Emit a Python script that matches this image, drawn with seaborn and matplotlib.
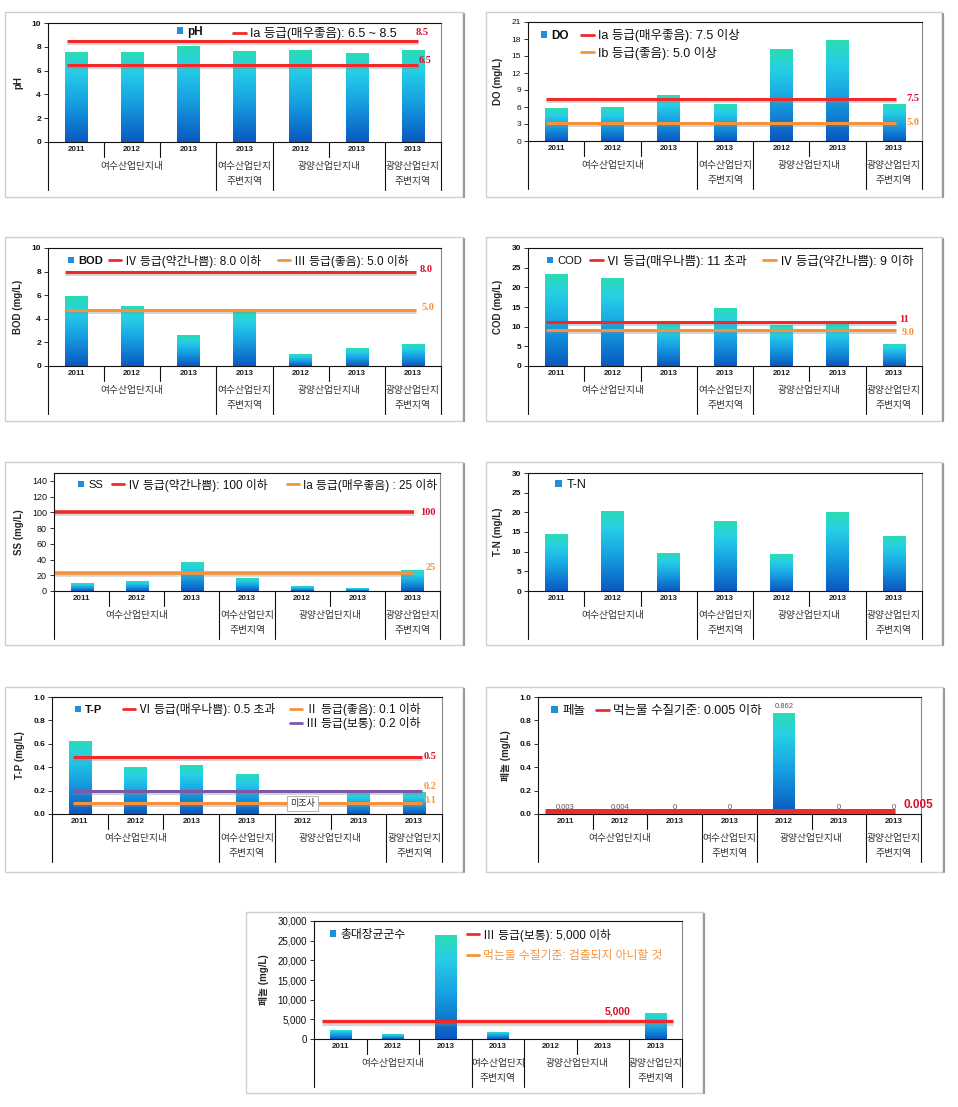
import numpy as np
import matplotlib
matplotlib.use('Agg')
import matplotlib.pyplot as plt
import seaborn as sns
import pandas as pd
from matplotlib.colors import LinearSegmentedColormap
from matplotlib.lines import Line2D
from matplotlib.patches import Patch, Rectangle
from matplotlib.legend import Legend
import matplotlib.patheffects as pe
import matplotlib.transforms as mtransforms
from matplotlib.ticker import FuncFormatter, MultipleLocator

sns.set_theme(style='white')
plt.rcParams['font.family'] = ['Liberation Sans', 'Noto Sans CJK KR', 'DejaVu Sans']
plt.rcParams['axes.unicode_minus'] = False

# ---------------- data ----------------
years = ['2011', '2012', '2013', '2013', '2012', '2013', '2013']
groups = ['여수산업단지내', '여수산업단지내', '여수산업단지내', '여수산업단지\n주변지역',
          '광양산업단지내', '광양산업단지내', '광양산업단지\n주변지역']

ph_vals = [7.6, 7.6, 8.1, 7.65, 7.7, 7.5, 7.7]
do_vals = [5.8, 6.0, 8.1, 6.5, 16.2, 17.8, 6.5]
bod_vals = [5.9, 5.1, 2.6, 4.7, 1.0, 1.5, 1.85]
cod_vals = [23.5, 22.5, 11.2, 14.7, 10.3, 10.6, 5.7]
ss_vals = [9.7, 12.2, 36.3, 16.0, 5.9, 3.4, 26.1]
tn_vals = [14.4, 20.4, 9.6, 17.7, 9.3, 20.0, 14.1]
tp_vals = [0.626, 0.402, 0.419, 0.343, np.nan, 0.187, 0.187]
phenol_vals = [0.003, 0.004, 0.0, 0.0, 0.862, 0.0, 0.0]
phenol_bar_labels = ['0.003', '0.004', '0', '0', '0.862', '0', '0']
coli_vals = [2360, 1180, 26370, 1850, np.nan, 80, 6570]

ph_lines, ph_line_labels = [8.5, 6.45], ['8.5', '6.5']
do_lines, do_line_labels = [7.5, 3.2], ['7.5', '5.0']
bod_lines, bod_line_labels = [8.0, 4.75], ['8.0', '5.0']
cod_lines, cod_line_labels = [11.2, 9.1], ['11', '9.0']
ss_lines, ss_line_labels = [100, 23], ['100', '25']
tp_lines, tp_line_labels = [0.49, 0.2, 0.095], ['0.5', '0.2', '0.1']
phenol_lines, phenol_line_labels = [0.023], ['0.005']
coli_lines, coli_line_labels = [4470], ['5,000']

# ---------------- styles ----------------
W, H = 958, 1107
RED = '#f02a2a'
RED_T = '#d8102a'
ORANGE = '#f7923a'
PURPLE = '#7d57a8'
SERIF = ['Liberation Serif', 'DejaVu Serif']
SANS = ['Liberation Sans', 'DejaVu Sans']

fig = plt.figure(figsize=(W / 100, H / 100), dpi=100)
fig.patch.set_facecolor('white')

cmap = LinearSegmentedColormap.from_list(
    'bar', [(0, '#0a58c0'), (0.45, '#17a2e2'), (0.78, '#26cfe6'), (1.0, '#2bdcb2')])
grad = np.linspace(0, 1, 256).reshape(-1, 1)


def fx(px):
    return px / W


def fy(py):
    return 1 - py / H


def frame(x0, y0, x1, y1):
    fig.add_artist(Rectangle((fx(x0), fy(y1)), fx(x1) - fx(x0), fy(y0) - fy(y1),
                             transform=fig.transFigure, fill=False,
                             edgecolor='#cfcfcf', lw=1.0))
    fig.add_artist(Line2D([fx(x1 + 1), fx(x1 + 1)], [fy(y0 + 2), fy(y1)],
                          transform=fig.transFigure, color='#9a9a9a', lw=1.6))


def legend_entry(ax, kind, color, text, px, py, fs=8.5, tcolor='#111111', bold=False):
    if kind == 'sq':
        h = Patch(facecolor='#1e8fd8', edgecolor='none')
        hl, hh = 0.55, 0.55
    else:
        h = Line2D([], [], color=color, lw=2.0)
        hl, hh = 1.0, 0.7
    leg = Legend(ax, [h], [text], loc='center left', bbox_to_anchor=(fx(px), fy(py)),
                 bbox_transform=fig.transFigure, frameon=False, fontsize=fs,
                 borderpad=0, borderaxespad=0, handlelength=hl, handleheight=hh,
                 handletextpad=0.35)
    for t in leg.get_texts():
        t.set_color(tcolor)
        if bold:
            t.set_fontweight('bold')
    ax.add_artist(leg)


def panel(box, vals, ylim, ystep, ylabel, fmt, tick_bold=True, tick_fs=6):
    l, t, r, b = box
    ax = fig.add_axes([fx(l), fy(b), fx(r) - fx(l), fy(t) - fy(b)])
    df = pd.DataFrame({'cat': [f'c{i}' for i in range(len(vals))], 'value': vals})
    sns.barplot(data=df, x='cat', y='value', order=list(df['cat']), ax=ax,
                width=0.4, color='#1aa6e4', errorbar=None, saturation=1)
    for p in list(ax.patches):
        x, y, w, h = p.get_x(), p.get_y(), p.get_width(), p.get_height()
        p.set_edgecolor('none')
        if not np.isfinite(h) or h <= 0:
            continue
        im = ax.imshow(grad, extent=[x, x + w, y, y + h], origin='lower', cmap=cmap,
                       aspect='auto', zorder=2, interpolation='bilinear')
        im.set_clip_path(p)
    ax.set_xlim(-0.5, len(vals) - 0.5)
    ax.set_ylim(*ylim)
    ax.yaxis.set_major_locator(MultipleLocator(ystep))
    if fmt == 'int':
        ax.yaxis.set_major_formatter(FuncFormatter(lambda v, _: f'{v:.0f}'))
    elif fmt == 'f1':
        ax.yaxis.set_major_formatter(FuncFormatter(lambda v, _: f'{v:.1f}'))
    else:
        ax.yaxis.set_major_formatter(FuncFormatter(lambda v, _: f'{v:,.0f}'))
    ax.set_xticks(range(len(vals)))
    ax.set_xticklabels(years, fontsize=5.8, fontweight='bold', color='#222222')
    ax.tick_params(axis='x', length=0, pad=3)
    ax.tick_params(axis='y', direction='out', length=3, width=0.6, pad=2,
                   labelsize=tick_fs, left=True, colors='#111111')
    if tick_bold:
        for tl in ax.get_yticklabels():
            tl.set_fontweight('bold')
    ax.set_xlabel('')
    ax.set_ylabel(ylabel, fontsize=7, fontweight='bold', labelpad=6)
    for s in ['left', 'bottom', 'top']:
        ax.spines[s].set_color('#111111')
        ax.spines[s].set_linewidth(0.8)
    ax.spines['right'].set_color('#8a8a8a')
    ax.spines['right'].set_linewidth(0.8)
    ax.set_facecolor('white')

    # hierarchical category axis
    hpx = b - t
    blend = mtransforms.blended_transform_factory(ax.transData, ax.transAxes)
    n = len(vals)
    bounds = [(-0.5, True)]
    for i in range(n - 1):
        bounds.append((i + 0.5, groups[i] != groups[i + 1]))
    bounds.append((n - 0.5, True))
    for xb, long_ in bounds:
        depth = 48 if long_ else 15
        ax.add_line(Line2D([xb, xb], [0, -depth / hpx], transform=blend, color='#111111',
                           lw=0.8, clip_on=False))
    seen = []
    for g in groups:
        if g not in seen:
            seen.append(g)
    for g in seen:
        idx = [i for i, gg in enumerate(groups) if gg == g]
        ax.text(np.mean(idx), -19 / hpx, g, transform=blend, ha='center', va='top',
                fontsize=7, color='#333333', linespacing=1.65)
    return ax


def thresholds(ax, values, labels, colors, lcolors, xs, xe, offs, lw=2.2, lfs=7, fam=SERIF):
    for v, lab, c, lc, (dx, dy) in zip(values, labels, colors, lcolors, offs):
        ax.hlines(v, xs, xe, colors=c, lw=lw, zorder=4,
                  path_effects=[pe.SimpleLineShadow(offset=(0, -1.5), shadow_color='#888888', alpha=0.35),
                                pe.Normal()])
        ax.annotate(lab, xy=(xe, v), xytext=(dx * 0.72, dy * 0.72), textcoords='offset points',
                    ha='left', va='center', fontsize=lfs, fontweight='bold', color=lc,
                    family=fam, annotation_clip=False, zorder=5)


# ---------- frames ----------
frame(5, 12, 463, 197)
frame(486, 12, 942, 197)
frame(5, 237, 463, 421)
frame(486, 237, 942, 421)
frame(5, 462, 463, 645)
frame(486, 462, 942, 645)
frame(5, 687, 463, 872)
frame(486, 687, 943, 872)
frame(246, 912, 703, 1093)

# ---------- pH ----------
ax = panel((48, 23, 441, 142), ph_vals, (0, 10), 2, 'pH', 'int')
thresholds(ax, ph_lines, ph_line_labels, [RED, RED], [RED_T, RED_T], -0.17, 6.09,
           [(-2, 8), (1, 5)], lfs=7.5)
legend_entry(ax, 'sq', None, 'pH', 177, 32, bold=True)
legend_entry(ax, 'line', RED, 'Ia 등급(매우좋음): 6.5 ~ 8.5', 233, 34, fs=9)

# ---------- DO ----------
ax = panel((528, 22, 922, 141), do_vals, (0, 21), 3, 'DO (mg/L)', 'int', tick_bold=False)
thresholds(ax, do_lines, do_line_labels, [RED, ORANGE], [RED_T, ORANGE], -0.18, 6.04,
           [(10, 0), (10, 0)], lfs=7.5)
legend_entry(ax, 'sq', None, 'DO', 541, 36, bold=True)
legend_entry(ax, 'line', RED, 'Ia 등급(매우좋음): 7.5 이상', 581, 36, fs=9)
legend_entry(ax, 'line', ORANGE, 'Ib 등급(좋음): 5.0 이상', 581, 53, fs=9)

# ---------- BOD ----------
ax = panel((48, 248, 441, 366), bod_vals, (0, 10), 2, 'BOD (mg/L)', 'int')
thresholds(ax, bod_lines, bod_line_labels, [RED, ORANGE], [RED_T, ORANGE], -0.2, 6.05,
           [(4, 2), (6, 2)], lfs=7.5)
legend_entry(ax, 'sq', None, 'BOD', 68, 261, fs=8, bold=True)
legend_entry(ax, 'line', RED, 'Ⅳ 등급(약간나쁨): 8.0 이하', 109, 261)
legend_entry(ax, 'line', ORANGE, 'Ⅲ 등급(좋음): 5.0 이하', 278, 261)

# ---------- COD ----------
ax = panel((528, 248, 922, 366), cod_vals, (0, 30), 5, 'COD (mg/L)', 'int')
thresholds(ax, cod_lines, cod_line_labels, [RED, ORANGE], [RED_T, ORANGE], -0.18, 6.03,
           [(4, 2), (6, -2)], lfs=7.5)
legend_entry(ax, 'sq', None, 'COD', 547, 261, fs=8)
legend_entry(ax, 'line', RED, 'Ⅵ 등급(매우나쁨): 11 초과', 590, 261, fs=9)
legend_entry(ax, 'line', ORANGE, 'Ⅳ 등급(약간나쁨): 9 이하', 763, 261, fs=9)

# ---------- SS ----------
ax = panel((54, 473, 440, 591), ss_vals, (0, 150), 20, 'SS (mg/L)', 'int', tick_bold=False, tick_fs=6.5)
thresholds(ax, ss_lines, ss_line_labels, [RED, ORANGE], [RED_T, ORANGE], -0.48, 6.03,
           [(6, 0), (12, 5)], lw=2.6, lfs=7.5)
legend_entry(ax, 'sq', None, 'SS', 78, 485, fs=8)
legend_entry(ax, 'line', RED, 'Ⅳ 등급(약간나쁨): 100 이하', 112, 485)
legend_entry(ax, 'line', ORANGE, 'Ia 등급(매우좋음) : 25 이하', 287, 485)

# ---------- T-N ----------
ax = panel((528, 473, 922, 591), tn_vals, (0, 30), 5, 'T-N (mg/L)', 'int')
legend_entry(ax, 'sq', None, 'T-N', 555, 485, fs=9)

# ---------- T-P ----------
ax = panel((52, 697, 442, 814), tp_vals, (0, 1.0), 0.2, 'T-P (mg/L)', 'f1')
thresholds(ax, tp_lines, tp_line_labels, [RED, PURPLE, ORANGE], [RED_T, ORANGE, ORANGE],
           -0.13, 6.14, [(2, 0), (2, 4), (2, 2)], lfs=7.5)
ax.text(4, 0.09, '미조사', ha='center', va='center', fontsize=6.5, color='#222222', zorder=6,
        bbox=dict(boxstyle='square,pad=0.35', facecolor='white', edgecolor='#aaaaaa', lw=0.6))
legend_entry(ax, 'sq', None, 'T-P', 75, 710, fs=8, bold=True)
legend_entry(ax, 'line', RED, 'Ⅵ 등급(매우나쁨): 0.5 초과', 123, 710)
legend_entry(ax, 'line', ORANGE, 'Ⅱ 등급(좋음): 0.1 이하', 290, 710)
legend_entry(ax, 'line', PURPLE, 'Ⅲ 등급(보통): 0.2 이하', 290, 724)

# ---------- Phenol ----------
ax = panel((538, 697, 921, 814), phenol_vals, (0, 1.0), 0.2, '페놀 (mg/L)', 'f1')
ax.bar_label(ax.containers[0], labels=phenol_bar_labels, padding=2, fontsize=5.5, color='#555555')
thresholds(ax, phenol_lines, phenol_line_labels, [RED], [RED_T], -0.37, 6.03,
           [(8, 6)], lw=3.6, lfs=8.5, fam=SANS)
legend_entry(ax, 'sq', None, '페놀', 551, 711, fs=9)
legend_entry(ax, 'line', RED, '먹는물 수질기준: 0.005 이하', 596, 711, fs=9)

# ---------- Total coliform ----------
ax = panel((314, 921, 682, 1039), coli_vals, (0, 30000), 5000, '페놀 (mg/L)', 'comma', tick_bold=False, tick_fs=7)
thresholds(ax, coli_lines, coli_line_labels, [RED], [RED_T], -0.34, 6.33,
           [(-68, 10)], lw=2.4, lfs=7.5, fam=SANS)
legend_entry(ax, 'sq', None, '총대장균군수', 330, 935)
legend_entry(ax, 'line', RED, 'Ⅲ 등급(보통): 5,000 이하', 467, 935)
legend_entry(ax, 'line', ORANGE, '먹는물 수질기준: 검출되지 아니할 것', 467, 956, tcolor=ORANGE)

fig.savefig('out.png', dpi=100, facecolor='white')
